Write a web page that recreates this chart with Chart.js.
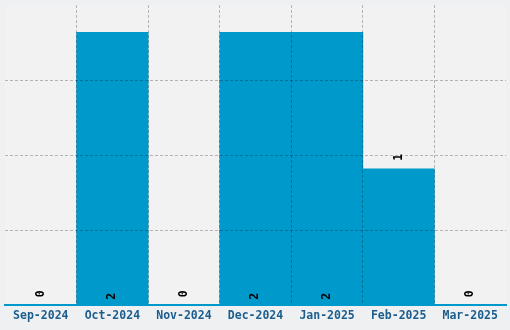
<!DOCTYPE html>
<html>
<head>
<meta charset="utf-8">
<script src="https://cdn.jsdelivr.net/npm/chart.js@4.4.1/dist/chart.umd.min.js"></script>
<style>
  html, body { margin: 0; padding: 0; background: #eef0f1; }
  #wrap { width: 510px; height: 330px; }
</style>
</head>
<body>
<div id="wrap"><canvas id="chart"></canvas></div>
<script>
// months shown on the x axis
var months = ["Sep-2024", "Oct-2024", "Nov-2024", "Dec-2024", "Jan-2025", "Feb-2025", "Mar-2025"];
// count per month
var counts = [0, 2, 0, 2, 2, 1, 0];

var BAR_COLOR = "#0099cc";
var GRID_COLOR = "rgba(0,0,0,0.26)";
var NONE = "rgba(0,0,0,0)";
var MONO = "'DejaVu Sans Mono', monospace";

// plot area background
var plotBg = {
    id: "plotBg",
    beforeDraw: function (chart) {
        var a = chart.chartArea, ctx = chart.ctx;
        ctx.save();
        ctx.fillStyle = "#f2f2f2";
        ctx.fillRect(a.left, a.top, a.right - a.left, a.bottom - a.top);
        ctx.restore();
    }
};

// rotated value labels
var valueLabels = {
    id: "valueLabels",
    afterDraw: function (chart) {
        var ctx = chart.ctx, a = chart.chartArea;
        var meta = chart.getDatasetMeta(0);
        ctx.save();
        ctx.font = "bold 11.5px " + MONO;
        ctx.fillStyle = "#000";
        ctx.textBaseline = "middle";
        ctx.textAlign = "left";
        meta.data.forEach(function (bar, i) {
            var y;
            if (bar.y - a.top > 40) {
                y = bar.y - 8;      // above the bar
            } else {
                y = bar.base - 5;   // inside, at the base
            }
            ctx.save();
            ctx.translate(bar.x, y);
            ctx.rotate(-Math.PI / 2);
            ctx.fillText(String(counts[i]), 0, 0);
            ctx.restore();
        });
        ctx.restore();
    }
};

new Chart(document.getElementById("chart"), {
    type: "bar",
    data: {
        labels: months,
        datasets: [{
            data: counts,
            backgroundColor: BAR_COLOR,
            borderWidth: 0,
            barPercentage: 1.0,
            categoryPercentage: 1.0
        }]
    },
    options: {
        responsive: true,
        maintainAspectRatio: false,
        animation: false,
        layout: { padding: { left: 5, right: 4, top: 5, bottom: 3 } },
        plugins: {
            legend: { display: false },
            tooltip: { enabled: false }
        },
        scales: {
            x: {
                offset: true,
                grid: {
                    z: 1,
                    offset: true,
                    drawTicks: false,
                    color: function (c) {
                        if (c.type !== "tick" || c.index === 0) return NONE;
                        return GRID_COLOR;
                    }
                },
                border: { display: true, z: 2, color: BAR_COLOR, width: 2, dash: [3, 2] },
                ticks: {
                    padding: 4,
                    color: "#1b5e8e",
                    font: { family: MONO, size: 11.5, weight: "bold" },
                    maxRotation: 0
                }
            },
            y: {
                min: 0,
                max: 2.2,
                ticks: { display: false, stepSize: 0.55 },
                grid: {
                    z: 1,
                    drawTicks: false,
                    color: function (c) {
                        if (c.type !== "tick" || !c.tick) return NONE;
                        var v = c.tick.value;
                        return (v < 0.01 || v > 2.19) ? NONE : GRID_COLOR;
                    }
                },
                border: { display: false, dash: [3, 2] }
            }
        }
    },
    plugins: [plotBg, valueLabels]
});
</script>
</body>
</html>
